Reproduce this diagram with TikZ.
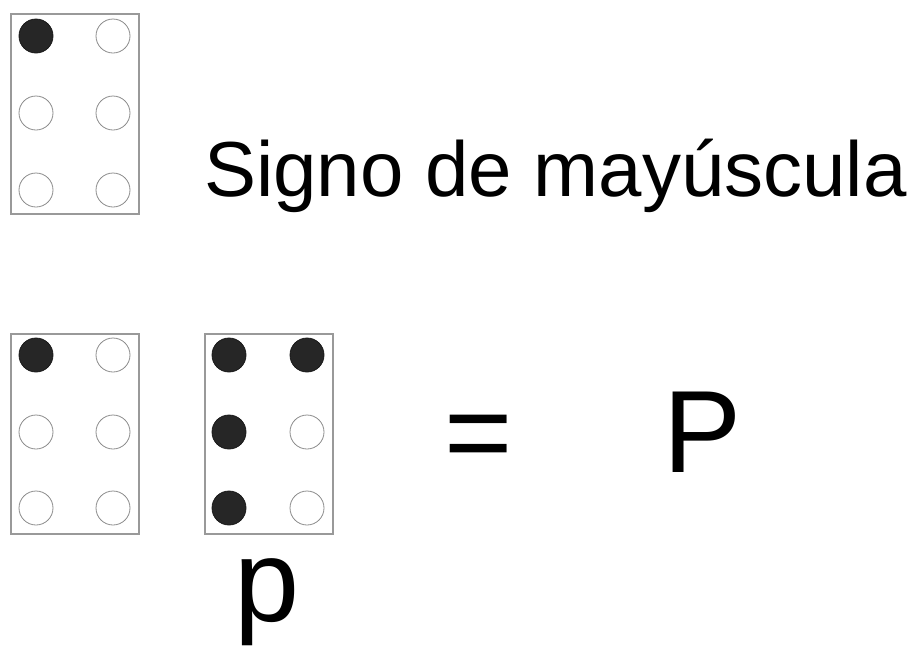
\documentclass[tikz,border=0pt]{standalone}
\usepackage{fontspec}
\setmainfont{Liberation Sans}
\begin{document}
\begin{tikzpicture}[x=1pt,y=-1pt,
  cellbox/.style={draw=black!40,line width=1.6pt},
  dotempty/.style={draw=black!45,line width=0.8pt,fill=white},
  dotfull/.style={draw=black!90,line width=0.8pt,fill=black!85},
  lbl/.style={inner sep=0pt,anchor=base west,text=black}]
\useasboundingbox[fill=white] (0,0) rectangle (916,646);
% cell 1: capital sign
\node[cellbox,minimum width=128pt,minimum height=200pt,inner sep=0pt,anchor=north west] (c1) at (10,13) {};
\node[dotfull,circle,minimum size=34pt,inner sep=0pt] (c1d1) at (36,36) {};
\node[dotempty,circle,minimum size=34pt,inner sep=0pt] (c1d4) at (113,36) {};
\node[dotempty,circle,minimum size=34pt,inner sep=0pt] (c1d2) at (36,113) {};
\node[dotempty,circle,minimum size=34pt,inner sep=0pt] (c1d5) at (113,113) {};
\node[dotempty,circle,minimum size=34pt,inner sep=0pt] (c1d3) at (36,190) {};
\node[dotempty,circle,minimum size=34pt,inner sep=0pt] (c1d6) at (113,190) {};
\node[lbl,font=\fontsize{78}{82}\selectfont] (t1) at (204,196) {Signo de mayúscula};
% cell 2: capital sign
\node[cellbox,minimum width=128pt,minimum height=200pt,inner sep=0pt,anchor=north west] (c2) at (10,333) {};
\node[dotfull,circle,minimum size=34pt,inner sep=0pt] (c2d1) at (36,355) {};
\node[dotempty,circle,minimum size=34pt,inner sep=0pt] (c2d4) at (113,355) {};
\node[dotempty,circle,minimum size=34pt,inner sep=0pt] (c2d2) at (36,432) {};
\node[dotempty,circle,minimum size=34pt,inner sep=0pt] (c2d5) at (113,432) {};
\node[dotempty,circle,minimum size=34pt,inner sep=0pt] (c2d3) at (36,508) {};
\node[dotempty,circle,minimum size=34pt,inner sep=0pt] (c2d6) at (113,508) {};
% cell 3: p
\node[cellbox,minimum width=128pt,minimum height=200pt,inner sep=0pt,anchor=north west] (c3) at (204,333) {};
\node[dotfull,circle,minimum size=34pt,inner sep=0pt] (c3d1) at (229,355) {};
\node[dotfull,circle,minimum size=34pt,inner sep=0pt] (c3d4) at (307,355) {};
\node[dotfull,circle,minimum size=34pt,inner sep=0pt] (c3d2) at (229,432) {};
\node[dotempty,circle,minimum size=34pt,inner sep=0pt] (c3d5) at (307,432) {};
\node[dotfull,circle,minimum size=34pt,inner sep=0pt] (c3d3) at (229,508) {};
\node[dotempty,circle,minimum size=34pt,inner sep=0pt] (c3d6) at (307,508) {};
\node[lbl,font=\fontsize{117}{120}\selectfont] (eq) at (444,472) {=};
\node[lbl,font=\fontsize{117}{120}\selectfont] (P) at (663,472) {P};
\node[lbl,font=\fontsize{117}{120}\selectfont] (p) at (234,621) {p};
\end{tikzpicture}
\end{document}
